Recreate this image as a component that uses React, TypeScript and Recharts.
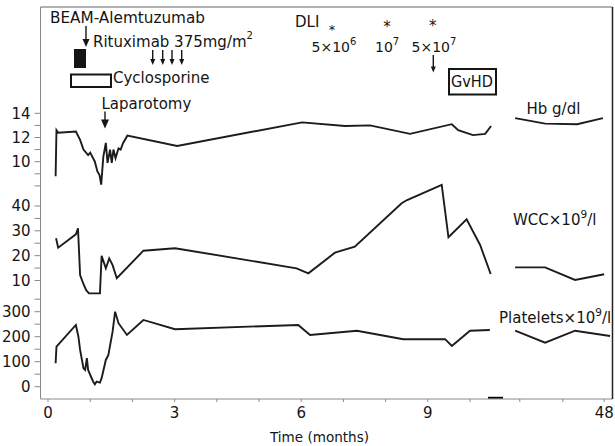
import React from 'react';
import { LineChart, Line, XAxis, YAxis, Customized } from 'recharts';

// ---- Data (time in axis months; values after the axis break sit on 11–13.2) ----
const hbEarly = [
  { t: 0.18, v: 8.8 }, { t: 0.2, v: 12.6 }, { t: 0.24, v: 12.4 }, { t: 0.66, v: 12.5 },
  { t: 0.76, v: 11.8 }, { t: 0.84, v: 11.0 }, { t: 0.95, v: 10.55 }, { t: 1.0, v: 10.75 },
  { t: 1.11, v: 10.0 }, { t: 1.17, v: 9.2 }, { t: 1.22, v: 8.9 }, { t: 1.26, v: 8.1 },
  { t: 1.31, v: 10.4 }, { t: 1.37, v: 11.55 }, { t: 1.41, v: 9.9 }, { t: 1.47, v: 11.0 },
  { t: 1.51, v: 9.9 }, { t: 1.55, v: 11.0 }, { t: 1.6, v: 10.3 }, { t: 1.67, v: 11.1 },
  { t: 1.72, v: 11.0 }, { t: 1.78, v: 11.55 }, { t: 1.88, v: 12.15 }, { t: 3.06, v: 11.3 },
  { t: 6.02, v: 13.25 }, { t: 7.04, v: 12.95 }, { t: 7.63, v: 13.0 }, { t: 8.58, v: 12.3 },
  { t: 9.57, v: 13.1 }, { t: 9.72, v: 12.6 }, { t: 10.07, v: 12.2 }, { t: 10.36, v: 12.3 },
  { t: 10.5, v: 12.95 },
];
const hbLate = [
  { t: 11.07, v: 13.6 }, { t: 11.78, v: 13.15 }, { t: 12.54, v: 13.1 }, { t: 13.15, v: 13.6 },
];

const wccEarly = [
  { t: 0.19, v: 27.0 }, { t: 0.24, v: 23.2 }, { t: 0.66, v: 28.6 }, { t: 0.71, v: 31.0 },
  { t: 0.76, v: 12.2 }, { t: 0.83, v: 9.0 }, { t: 0.9, v: 6.2 }, { t: 0.97, v: 4.8 },
  { t: 1.23, v: 4.8 }, { t: 1.27, v: 19.9 }, { t: 1.37, v: 14.9 }, { t: 1.45, v: 18.9 },
  { t: 1.53, v: 16.2 }, { t: 1.63, v: 10.9 }, { t: 2.26, v: 22.0 }, { t: 3.01, v: 23.0 },
  { t: 5.89, v: 14.9 }, { t: 6.17, v: 12.9 }, { t: 6.8, v: 21.2 }, { t: 7.27, v: 23.6 },
  { t: 8.38, v: 41.1 }, { t: 8.51, v: 42.4 }, { t: 9.33, v: 48.5 }, { t: 9.49, v: 27.4 },
  { t: 9.92, v: 34.6 }, { t: 10.2, v: 25.6 }, { t: 10.24, v: 24.3 }, { t: 10.49, v: 12.6 },
];
const wccLate = [
  { t: 11.07, v: 15.3 }, { t: 11.78, v: 15.3 }, { t: 12.49, v: 10.2 }, { t: 13.18, v: 12.5 },
];

const pltEarly = [
  { t: 0.18, v: 94 }, { t: 0.2, v: 160 }, { t: 0.66, v: 247 }, { t: 0.72, v: 200 },
  { t: 0.76, v: 147 }, { t: 0.84, v: 74 }, { t: 0.88, v: 67 }, { t: 0.92, v: 114 },
  { t: 0.95, v: 67 }, { t: 1.07, v: 20 }, { t: 1.11, v: 10 }, { t: 1.15, v: 20 },
  { t: 1.23, v: 16 }, { t: 1.27, v: 34 }, { t: 1.37, v: 107 }, { t: 1.43, v: 127 },
  { t: 1.53, v: 220 }, { t: 1.59, v: 300 }, { t: 1.67, v: 254 }, { t: 1.87, v: 207 },
  { t: 2.26, v: 267 }, { t: 3.01, v: 230 }, { t: 5.93, v: 247 }, { t: 6.21, v: 207 },
  { t: 7.32, v: 224 }, { t: 8.42, v: 190 }, { t: 9.41, v: 190 }, { t: 9.57, v: 163 },
  { t: 10.0, v: 224 }, { t: 10.47, v: 227 },
];
const pltLate = [
  { t: 11.07, v: 224 }, { t: 11.78, v: 176 }, { t: 12.49, v: 224 }, { t: 13.32, v: 203 },
];

const xTicks = [0, 1, 2, 3, 4, 5, 6, 7, 8, 9, 10, 11.18, 12.2, 13.18];
const xTickLabels: Record<string, string> = { '0': '0', '3': '3', '6': '6', '9': '9', '13.18': '48' };

const hbTicks = [8, 9, 10, 11, 12, 13, 14];
const hbLabels = [10, 12, 14];
const wccTicks = [10, 15, 20, 25, 30, 35, 40];
const wccLabels = [10, 20, 30, 40];
const pltTicks = [0, 50, 100, 150, 200, 250, 300, 350];
const pltLabels = [0, 100, 200, 300];

const FONT = '"DejaVu Sans", "Liberation Sans", sans-serif';
const AXIS = '#8a8a8a';
const INK = '#151515';
const TINY = 0.01;

const Arrow = ({ x, y1, y2, w, h }: { x: number; y1: number; y2: number; w: number; h: number }) => (
  <g>
    <line x1={x} x2={x} y1={y1} y2={y2 - h + 1} stroke={INK} strokeWidth={1.4} />
    <polygon points={`${x - w / 2},${y2 - h} ${x + w / 2},${y2 - h} ${x},${y2}`} fill={INK} />
  </g>
);

const Annotations = () => (
  <g fontFamily={FONT} fill={INK}>
    <text x={50} y={23} fontSize={15} textLength={155} lengthAdjust="spacingAndGlyphs">BEAM-Alemtuzumab</text>
    <Arrow x={86} y1={26} y2={47} w={7} h={8} />
    <rect x={74} y={49} width={12} height={19} fill={INK} />
    <text x={93} y={46.5} fontSize={15}>
      Rituximab 375mg/m<tspan dy={-8} fontSize={10}>2</tspan>
    </text>
    <Arrow x={152.7} y1={50} y2={65} w={5} h={6} />
    <Arrow x={162.7} y1={50} y2={65} w={5} h={6} />
    <Arrow x={172} y1={50} y2={65} w={5} h={6} />
    <Arrow x={181.7} y1={50} y2={65} w={5} h={6} />
    <rect x={71} y={74.5} width={40} height={12.5} fill="none" stroke={INK} strokeWidth={2} />
    <text x={113} y={83} fontSize={15}>Cyclosporine</text>
    <text x={101.5} y={108.5} fontSize={15}>Laparotomy</text>
    <Arrow x={105} y1={111.5} y2={128.5} w={8} h={9} />

    <text x={295} y={27} fontSize={15}>DLI</text>
    <text x={332} y={34} fontSize={13} textAnchor="middle">*</text>
    <text x={387} y={32} fontSize={15} textAnchor="middle">*</text>
    <text x={432.7} y={31} fontSize={15} textAnchor="middle">*</text>
    <text x={311.5} y={51.5} fontSize={14}>
      5×10<tspan dy={-7} fontSize={10}>6</tspan>
    </text>
    <text x={375} y={51.5} fontSize={14}>
      10<tspan dy={-7} fontSize={10}>7</tspan>
    </text>
    <text x={411.5} y={51.5} fontSize={14}>
      5×10<tspan dy={-7} fontSize={10}>7</tspan>
    </text>
    <Arrow x={433.3} y1={55} y2={72.5} w={5} h={6} />
    <rect x={449} y={69} width={47} height={25.5} fill="none" stroke={INK} strokeWidth={2} />
    <text x={451} y={87} fontSize={15} textLength={42} lengthAdjust="spacingAndGlyphs">GvHD</text>

    <text x={526.5} y={114} fontSize={15}>Hb g/dl</text>
    <text x={513} y={225} fontSize={15}>
      WCC×10<tspan dy={-7} fontSize={10.5}>9</tspan><tspan dy={7}>/l</tspan>
    </text>
    <text x={499} y={323} fontSize={15}>
      Platelets×10<tspan dy={-7} fontSize={10.5}>9</tspan><tspan dy={7}>/l</tspan>
    </text>

    <line x1={488} x2={503} y1={397.8} y2={397.8} stroke="#000" strokeWidth={2} />
    <text x={270} y={442} fontSize={14} textLength={99} lengthAdjust="spacingAndGlyphs">Time (months)</text>
  </g>
);

const fmt = (labels: number[]) => (v: number) => (labels.includes(v) ? String(v) : '');

const tickStyle = { fill: INK, fontSize: 15, fontFamily: FONT };

export default function App() {
  return (
    <div style={{ position: 'absolute', left: 0, top: 0, background: '#fff' }}>
      <LineChart width={615} height={446} margin={{ top: 7, right: 2.5, bottom: 17, left: 40.5 }}>
        <XAxis
          dataKey="t"
          type="number"
          domain={[-0.1777, 13.377]}
          allowDataOverflow
          ticks={xTicks}
          interval={0}
          tickFormatter={(v: number) => xTickLabels[String(v)] ?? ''}
          tick={tickStyle}
          tickSize={3}
          tickMargin={5}
          height={30}
          stroke={AXIS}
        />
        <XAxis
          xAxisId="top"
          orientation="top"
          type="number"
          domain={[0, 1]}
          tick={false}
          tickLine={false}
          height={TINY}
          stroke="#666"
        />
        <YAxis
          yAxisId="hb"
          type="number"
          domain={[-9.612, 22.785]}
          allowDataOverflow
          ticks={hbTicks}
          interval={0}
          tickFormatter={fmt(hbLabels)}
          tick={tickStyle}
          tickSize={6}
          tickMargin={4}
          width={TINY}
          stroke={AXIS}
        />
        <YAxis
          yAxisId="wcc"
          type="number"
          domain={[-37.73, 120.14]}
          allowDataOverflow
          ticks={wccTicks}
          interval={0}
          tickFormatter={fmt(wccLabels)}
          tick={tickStyle}
          tickSize={6}
          tickMargin={4}
          width={TINY}
          stroke={AXIS}
        />
        <YAxis
          yAxisId="plt"
          type="number"
          domain={[-49.2, 1518.8]}
          allowDataOverflow
          ticks={pltTicks}
          interval={0}
          tickFormatter={fmt(pltLabels)}
          tick={tickStyle}
          tickSize={6}
          tickMargin={4}
          width={TINY}
          stroke={AXIS}
        />
        <YAxis
          yAxisId="r"
          orientation="right"
          type="number"
          domain={[0, 1]}
          tick={false}
          tickLine={false}
          width={TINY}
          stroke="#222"
          strokeWidth={1.5}
        />
        {[
          { id: 'hb', d: hbEarly, k: 'hbE' },
          { id: 'hb', d: hbLate, k: 'hbL' },
          { id: 'wcc', d: wccEarly, k: 'wE' },
          { id: 'wcc', d: wccLate, k: 'wL' },
          { id: 'plt', d: pltEarly, k: 'pE' },
          { id: 'plt', d: pltLate, k: 'pL' },
        ].map((s) => (
          <Line
            key={s.k}
            data={s.d}
            dataKey="v"
            yAxisId={s.id}
            type="linear"
            stroke="#1c1c1c"
            strokeWidth={1.9}
            dot={false}
            isAnimationActive={false}
          />
        ))}
        <Customized component={<Annotations />} />
      </LineChart>
    </div>
  );
}
